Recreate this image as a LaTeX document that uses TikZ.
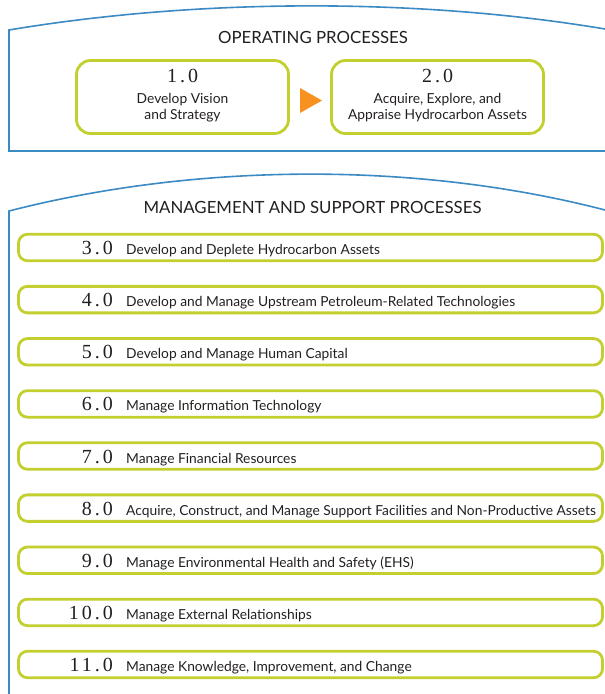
\documentclass[tikz,border=0pt]{standalone}
\usepackage{fontspec}
\setmainfont{Lato}
\newfontfamily\numfont[LetterSpace=15]{Liberation Serif}
\usepackage{xcolor}
\usepackage{tikz}
\usetikzlibrary{positioning}
\definecolor{procgreen}{HTML}{C2CF2E}
\definecolor{procblue}{HTML}{3C8AC4}
\definecolor{procorange}{HTML}{F7921E}
\definecolor{proctext}{HTML}{231F20}
\tikzset{
	procframe/.style={draw=procblue,line width=1.6pt},
	opbox/.style={draw=procgreen,line width=2.8pt,rounded corners=14pt,minimum width=212pt,minimum height=73pt,inner sep=0pt},
	supbar/.style={draw=procgreen,line width=2.8pt,rounded corners=9pt,minimum width=584pt,minimum height=26.5pt,inner sep=0pt},
	flowtip/.style={fill=procorange},
	num/.style={inner sep=0pt,text=proctext,font=\numfont\fontsize{20}{20}\selectfont},
	lbl/.style={inner sep=0pt,text=proctext,font=\fontsize{13.8}{16.5}\selectfont},
	ttl/.style={inner sep=0pt,text=proctext,font=\fontsize{16.8}{18}\selectfont}}

\begin{document}
\begin{tikzpicture}[x=1pt,y=-1pt]
	\useasboundingbox (0,0) rectangle (605,694);
	% frames
	\draw[procframe] (605,151) -- (9,151) -- (9,30) .. controls (200,-2) and (420,-2) .. (605,29);
	\draw[procframe] (9,694) -- (9,211) .. controls (200,162) and (420,162) .. (605,210);
	% operating processes
	\node (optitle) at (313,43) [ttl,anchor=base] {OPERATING PROCESSES};
	\node (vision) at (182.5,97) [opbox] {};
	\node (acquire) at (437.5,97) [opbox] {};
	\node (visnum) at (182.5,82) [num,anchor=base] {1.0};
	\node (vistxt) at (182.5,119.5) [lbl,anchor=base,align=center] {Develop Vision\\and Strategy};
	\node (acqnum) at (437.5,82) [num,anchor=base] {2.0};
	\node (acqtxt) at (437.5,119.5) [lbl,anchor=base,align=center] {Acquire, Explore, and\\Appraise Hydrocarbon Assets};
	\fill[flowtip] (300,88) -- (322,100.5) -- (300,113) -- cycle;
	% management and support processes
	\node (suptitle) at (312.5,213) [ttl,anchor=base] {MANAGEMENT AND SUPPORT PROCESSES};
	\node (B3) at (310.5,247.5) [supbar] {};
	\node (B4) at (310.5,299.6) [supbar] {};
	\node (B5) at (310.5,351.8) [supbar] {};
	\node (B6) at (310.5,403.9) [supbar] {};
	\node (B7) at (310.5,456) [supbar] {};
	\node (B8) at (310.5,508.1) [supbar] {};
	\node (B9) at (310.5,560.3) [supbar] {};
	\node (B10) at (310.5,612.4) [supbar] {};
	\node (B11) at (310.5,664.5) [supbar] {};
	\node (N3) at (113,254.5) [num,anchor=base east] {3.0};
	\node (N4) at (113,306.6) [num,anchor=base east] {4.0};
	\node (N5) at (113,358.8) [num,anchor=base east] {5.0};
	\node (N6) at (113,410.9) [num,anchor=base east] {6.0};
	\node (N7) at (113,463) [num,anchor=base east] {7.0};
	\node (N8) at (113,515.1) [num,anchor=base east] {8.0};
	\node (N9) at (113,567.3) [num,anchor=base east] {9.0};
	\node (N10) at (113,619.4) [num,anchor=base east] {10.0};
	\node (N11) at (113,671.5) [num,anchor=base east] {11.0};
	\node (T3) at (126,254.5) [lbl,anchor=base west] {Develop and Deplete Hydrocarbon Assets};
	\node (T4) at (126,306.6) [lbl,anchor=base west] {Develop and Manage Upstream Petroleum-Related Technologies};
	\node (T5) at (126,358.8) [lbl,anchor=base west] {Develop and Manage Human Capital};
	\node (T6) at (126,410.9) [lbl,anchor=base west] {Manage Information Technology};
	\node (T7) at (126,463) [lbl,anchor=base west] {Manage Financial Resources};
	\node (T8) at (126,515.1) [lbl,anchor=base west] {Acquire, Construct, and Manage Support Facilities and Non-Productive Assets};
	\node (T9) at (126,567.3) [lbl,anchor=base west] {Manage Environmental Health and Safety (EHS)};
	\node (T10) at (126,619.4) [lbl,anchor=base west] {Manage External Relationships};
	\node (T11) at (126,671.5) [lbl,anchor=base west] {Manage Knowledge, Improvement, and Change};
\end{tikzpicture}
\end{document}
